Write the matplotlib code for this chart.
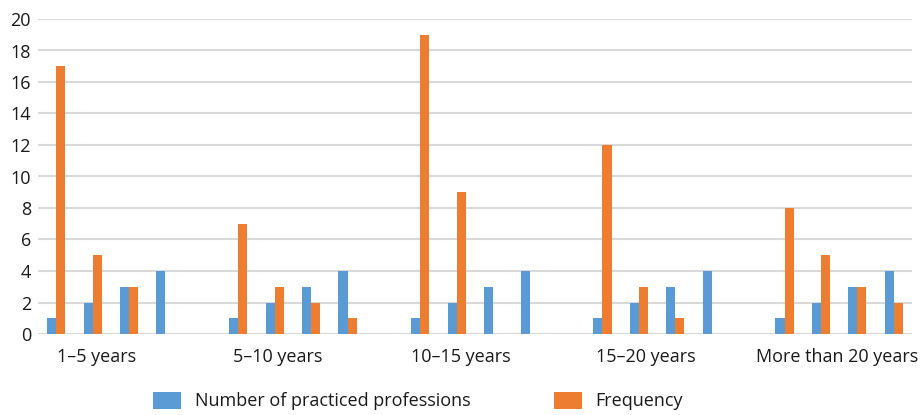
import matplotlib
matplotlib.use("Agg")
import matplotlib.pyplot as plt
from matplotlib.patches import Patch
import numpy as np

categories = ["1–5 years", "5–10 years", "10–15 years", "15–20 years", "More than 20 years"]
professions = [1, 2, 3, 4]
frequency = {
    "1–5 years": [17, 5, 3, 0],
    "5–10 years": [7, 3, 2, 1],
    "10–15 years": [19, 9, 0, 0],
    "15–20 years": [12, 3, 1, 0],
    "More than 20 years": [8, 5, 3, 2],
}
series_names = ["Number of practiced professions", "Frequency"]
yticks = list(range(0, 21, 2))

BLUE = "#5B9BD5"
ORANGE = "#ED7D31"
GRID = "#D9D9D9"
TXT = "#1a1a1a"
plt.rcParams["font.family"] = ["Open Sans", "DejaVu Sans"]

fig = plt.figure(figsize=(9.22, 4.15), dpi=100)
ax = fig.add_axes([38 / 922, 81 / 415, 874 / 922, 315 / 415])

n_sub = len(professions)
slot = n_sub + 1
bw = 0.25
label_pos = []
for ci, cat in enumerate(categories):
    base = ci * slot
    xs = base + np.arange(n_sub)
    ax.bar(xs - bw / 2, professions, width=bw, color=BLUE, zorder=3)
    ax.bar(xs + bw / 2, frequency[cat], width=bw, color=ORANGE, zorder=3)
    label_pos.append(base + (n_sub - 1) / 2)

ax.set_xlim(-0.5, len(categories) * slot - 1.5)
ax.set_ylim(0, 20)
ax.set_yticks(yticks)
ax.set_yticklabels([str(t) for t in yticks], fontsize=13, color=TXT)
ax.yaxis.grid(True, color=GRID, linewidth=1.5, zorder=0)
ax.set_axisbelow(True)
for s in ax.spines.values():
    s.set_visible(False)
ax.tick_params(axis="y", length=0, pad=5)
ax.tick_params(axis="x", length=0, pad=10)
offsets = [-0.38, -0.42, -0.38, -0.3, -0.05]
ax.set_xticks([p + o for p, o in zip(label_pos, offsets)])
ax.set_xticklabels(categories, fontsize=13, color=TXT)

handles = [Patch(facecolor=BLUE), Patch(facecolor=ORANGE)]
fig.legend(handles, series_names, loc="center", bbox_to_anchor=(418 / 922, 1 - 401 / 415),
           ncol=2, frameon=False, fontsize=13, handlelength=1.55, handleheight=1.1,
           handletextpad=0.75, columnspacing=4.6, labelcolor=TXT)

fig.savefig("out.png", dpi=100)
